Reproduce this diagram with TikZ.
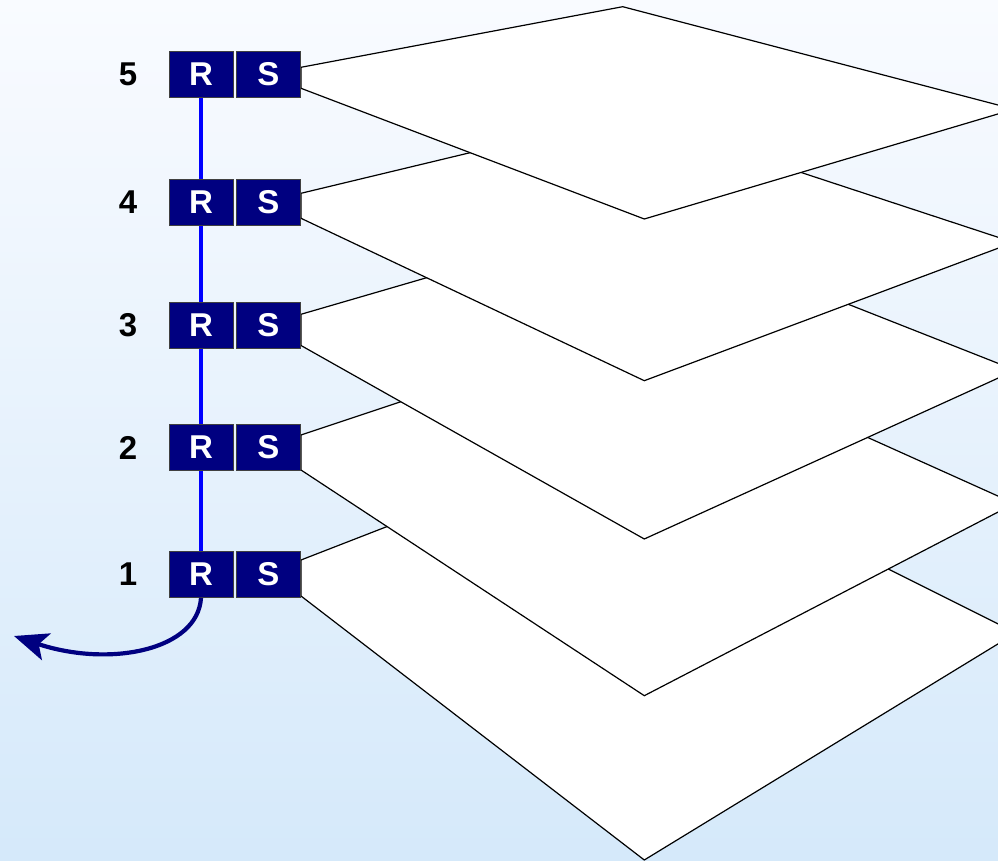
\documentclass[tikz,border=0pt]{standalone}
\usepackage{fontspec}
\setmainfont{Liberation Sans}
\usetikzlibrary{arrows.meta}

\definecolor{boxnavy}{RGB}{0,0,128}
\definecolor{linkblue}{RGB}{0,0,255}
\definecolor{bgtop}{RGB}{249,251,255}
\definecolor{bgbottom}{RGB}{213,233,250}

\begin{document}
\begin{tikzpicture}[
        x=0.5pt, y=-0.5pt,
        rsbox/.style={
            rectangle,
            draw=black!75,
            line width=0.5pt,
            fill=boxnavy,
            text=white,
            font=\fontsize{16.5}{19}\selectfont\bfseries,
            minimum width=32pt,
            minimum height=23pt,
            inner sep=0pt
        },
        tag/.style={
            font=\fontsize{16.5}{19}\selectfont\bfseries
        },
        sheet/.style={
            draw=black,
            fill=white,
            line width=0.6pt
        },
        rline/.style={
            linkblue,
            line width=2.4pt
        },
        outarrow/.style={
            -{Stealth[length=17pt,width=14pt,inset=4pt]},
            boxnavy,
            line width=2.1pt
        }
    ]

    \useasboundingbox (0,0) rectangle (998,861);
    \clip (0,0) rectangle (998,861);

    % Background
    \fill[top color=bgtop, bottom color=bgbottom] (0,0) rectangle (998,861);

    % Planes, lowest first
    \draw[sheet] (301,560) -- (621.3,435.5) -- (1016,632.9) -- (644.3,860) -- (301,596) -- cycle;
    \draw[sheet] (301,435) -- (623.5,327.6) -- (1014.5,503.5) -- (644.3,695.7) -- (301,470) -- cycle;
    \draw[sheet] (301,314.3) -- (630.4,218.4) -- (1015.5,370.2) -- (644.3,539) -- (301,345.5) -- cycle;
    \draw[sheet] (301,193.3) -- (626.7,115.1) -- (1013.6,242.4) -- (644.3,380.7) -- (301,218.3) -- cycle;
    \draw[sheet] (301,67.3) -- (622.7,6.7) -- (1014,109.2) -- (644.3,219) -- (301,88.3) -- cycle;

    % Level 5
    \node[tag] (n5) at (128,74.2) {5};
    \node[rsbox] (R5) at (201,74.2) {R};
    \node[rsbox] (S5) at (268.5,74.2) {S};

    % Level 4
    \node[tag] (n4) at (128,202.2) {4};
    \node[rsbox] (R4) at (201,202.2) {R};
    \node[rsbox] (S4) at (268.5,202.2) {S};

    % Level 3
    \node[tag] (n3) at (128,325.3) {3};
    \node[rsbox] (R3) at (201,325.3) {R};
    \node[rsbox] (S3) at (268.5,325.3) {S};

    % Level 2
    \node[tag] (n2) at (128,447.5) {2};
    \node[rsbox] (R2) at (201,447.5) {R};
    \node[rsbox] (S2) at (268.5,447.5) {S};

    % Level 1
    \node[tag] (n1) at (128,574.3) {1};
    \node[rsbox] (R1) at (201,574.3) {R};
    \node[rsbox] (S1) at (268.5,574.3) {S};

    % Links between the R boxes
    \draw[rline] (R5) -- (R4);
    \draw[rline] (R4) -- (R3);
    \draw[rline] (R3) -- (R2);
    \draw[rline] (R2) -- (R1);

    % Way out
    \coordinate (out) at (14,636);
    \draw[outarrow] (R1.south) .. controls (198,650) and (110,668) .. (out);

\end{tikzpicture}
\end{document}
